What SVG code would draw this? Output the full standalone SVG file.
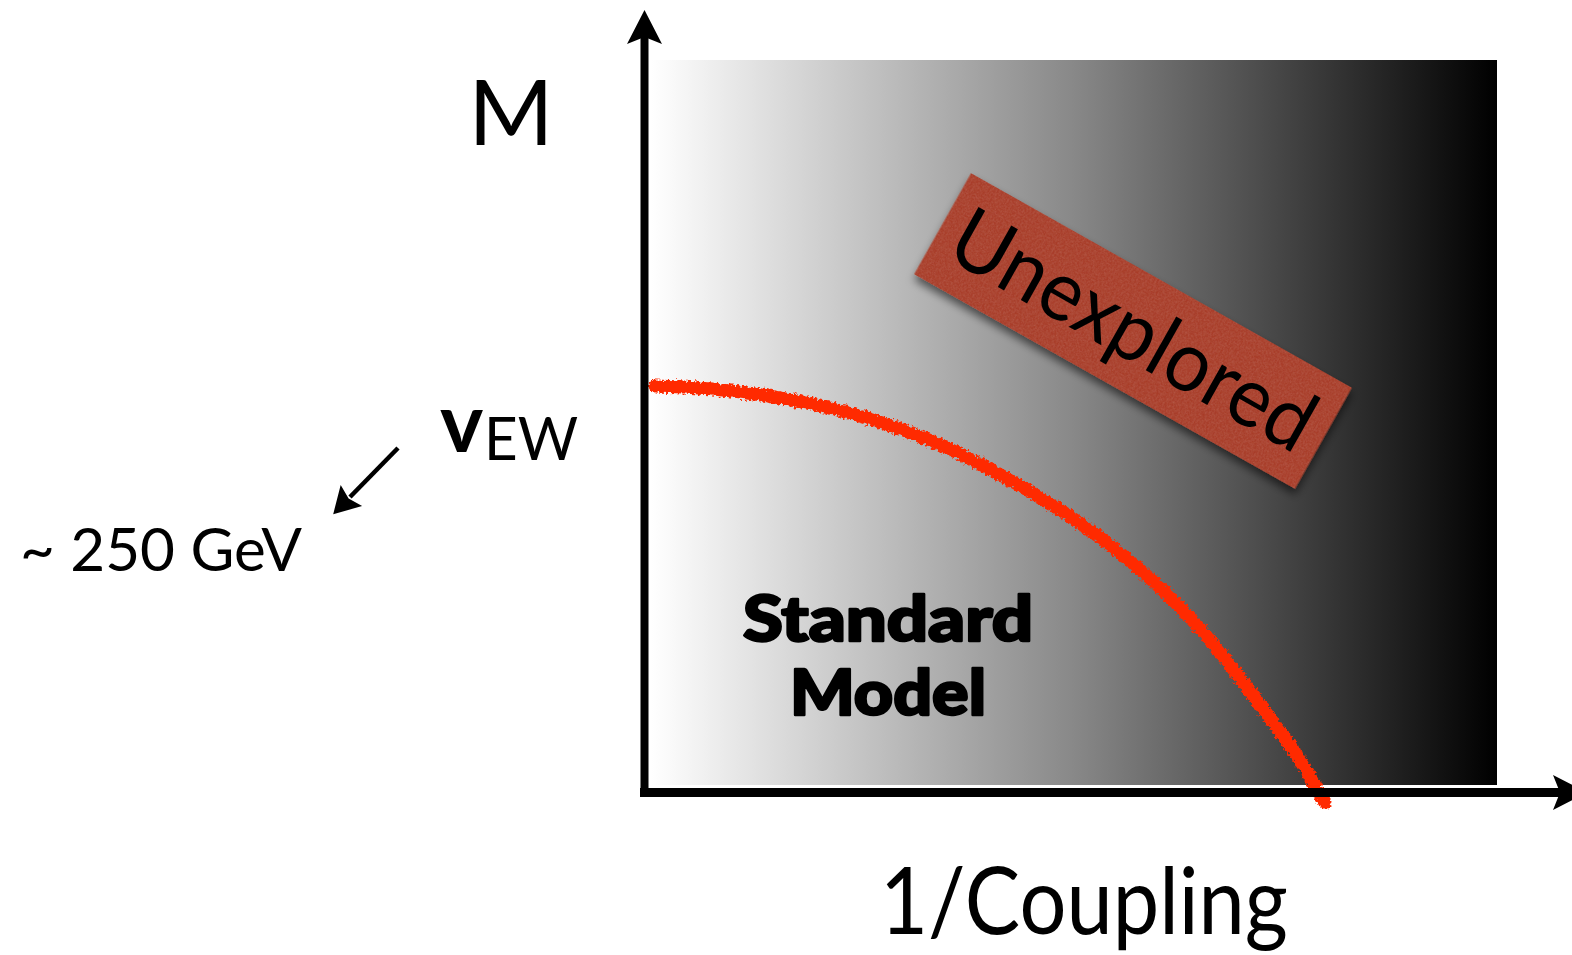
<svg xmlns="http://www.w3.org/2000/svg" width="1572" height="955" viewBox="0 0 1572 955">
<defs>
  <linearGradient id="shade" x1="0" y1="0" x2="1" y2="0">
    <stop offset="0" stop-color="#ffffff"/>
    <stop offset="0.5" stop-color="#888888"/>
    <stop offset="1" stop-color="#000000"/>
  </linearGradient>
  <marker id="axisHead" markerUnits="userSpaceOnUse" viewBox="-10 -20 40 40" markerWidth="40" markerHeight="40" refX="0" refY="0" orient="auto" overflow="visible">
    <path d="M27,0 L-7,-17.5 L0,0 L-7,17.5 Z" fill="#000"/>
  </marker>
  <marker id="smallHead" markerUnits="userSpaceOnUse" viewBox="-5 -15 30 30" markerWidth="30" markerHeight="30" refX="0" refY="0" orient="auto" overflow="visible">
    <path d="M24,0 L-2,-15 L2,0 L-2,15 Z" fill="#000"/>
  </marker>
  <filter id="paper" x="-10%" y="-30%" width="130%" height="170%">
    <feGaussianBlur in="SourceAlpha" stdDeviation="4" result="b"/>
    <feOffset in="b" dx="3" dy="5" result="ob"/>
    <feFlood flood-color="#000" flood-opacity="0.55"/>
    <feComposite in2="ob" operator="in" result="shadow"/>
    <feTurbulence type="fractalNoise" baseFrequency="0.6" numOctaves="2" seed="3" result="noise"/>
    <feColorMatrix in="noise" type="matrix" values="0 0 0 0 0.8  0 0 0 0 0.35  0 0 0 0 0.25  0.3 0 0 0 -0.1" result="speck"/>
    <feComposite in="speck" in2="SourceAlpha" operator="in" result="tex"/>
    <feMerge>
      <feMergeNode in="shadow"/>
      <feMergeNode in="SourceGraphic"/>
      <feMergeNode in="tex"/>
    </feMerge>
  </filter>
  <filter id="chalk" x="-5%" y="-10%" width="110%" height="120%">
    <feTurbulence type="fractalNoise" baseFrequency="0.35" numOctaves="2" seed="7" result="n"/>
    <feDisplacementMap in="SourceGraphic" in2="n" scale="7" xChannelSelector="R" yChannelSelector="G"/>
  </filter>
  <style>
    .lbl { font-family: "Lato", "Liberation Sans", sans-serif; fill: #000; }
    .heavy { font-weight: 900; stroke: #000; stroke-width: 2.5; stroke-linejoin: round; }
    .axis { stroke: #000; fill: none; }
  </style>
</defs>

<g id="plot-area">
  <rect x="651" y="60" width="846" height="725" fill="url(#shade)"/>
</g>

<g id="sm-boundary">
  <path d="M655,386 C760,388 870,410 960,454 S1150,560 1230,665 S1300,760 1325,803" fill="none" stroke="#ff2a00" stroke-width="13" stroke-linecap="round" filter="url(#chalk)"/>
</g>

<g id="unexplored" transform="translate(1133,331) rotate(29.4)">
  <rect x="-218.5" y="-58" width="437" height="116" fill="#a83d2b" filter="url(#paper)"/>
  <text class="lbl" x="0" y="28" font-size="84" text-anchor="middle" textLength="404" lengthAdjust="spacingAndGlyphs">Unexplored</text>
</g>

<g id="standard-model">
  <text class="lbl heavy" x="888" y="641" font-size="63" text-anchor="middle" textLength="290" lengthAdjust="spacingAndGlyphs">Standard</text>
  <text class="lbl heavy" x="888" y="715" font-size="63" text-anchor="middle" textLength="196" lengthAdjust="spacingAndGlyphs">Model</text>
</g>

<g id="label-m">
  <text class="lbl" x="511" y="145" font-size="92" text-anchor="middle">M</text>
</g>

<g id="label-vew">
  <text class="lbl" x="440" y="452" font-size="82" font-weight="700">v</text>
  <text class="lbl" x="484" y="460" font-size="60" textLength="94" lengthAdjust="spacingAndGlyphs">EW</text>
</g>

<g id="label-250">
  <text class="lbl" x="20" y="571" font-size="60" textLength="282" lengthAdjust="spacingAndGlyphs">~ 250 GeV</text>
</g>

<g id="label-coupling">
  <text class="lbl" x="880" y="934" font-size="94" textLength="408" lengthAdjust="spacingAndGlyphs">1/Coupling</text>
</g>

<g id="connectors">
  <line class="axis" x1="644.5" y1="797" x2="644.5" y2="37" stroke-width="8" marker-end="url(#axisHead)"/>
  <line class="axis" x1="640" y1="792.5" x2="1560" y2="792.5" stroke-width="9" marker-end="url(#axisHead)"/>
  <line class="axis" x1="398" y1="448" x2="350" y2="497" stroke-width="4.5" marker-end="url(#smallHead)"/>
</g>
</svg>
